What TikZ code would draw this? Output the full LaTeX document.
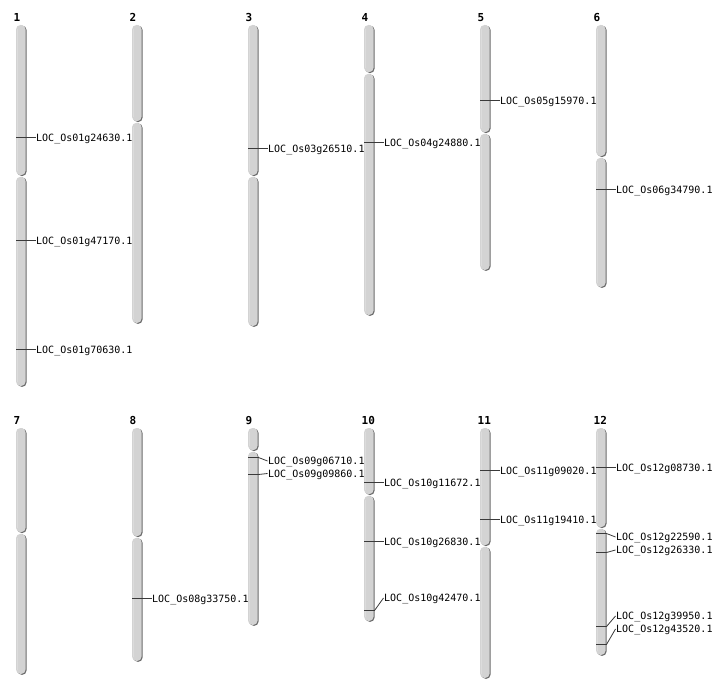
\documentclass[tikz,border=0pt]{standalone}
\usepackage{fontspec}
\newfontfamily\locfont{DejaVu Sans Mono}
\newfontfamily\numfont{DejaVu Sans Mono}
\definecolor{chrbody}{HTML}{D3D3D3}
\definecolor{chrhi}{HTML}{DCDCDC}
\definecolor{chrshade}{HTML}{6A6A6A}
\definecolor{mkcol}{HTML}{3A3A3A}
\tikzset{
  loclab/.style={font=\locfont\fontsize{10}{10}\selectfont, anchor=west, inner sep=0pt, text height=7.3pt, text depth=2pt},
  chrnum/.style={font=\numfont\bfseries\fontsize{11}{11}\selectfont, anchor=west, inner sep=0pt},
  mk/.style={draw=mkcol, line width=1.2pt},
  lead/.style={draw=mkcol, line width=0.8pt},
}
% arm: x, y1, y2
\newcommand\chrarm[3]{%
  \fill[chrshade, rounded corners=4.5pt] ({#1+1.4},{#2+0.6}) rectangle ({#1+10.6},{#3+0.9});
  \fill[chrbody, rounded corners=4.5pt] ({#1},{#2}) rectangle ({#1+9.6},{#3});
  \fill[chrhi] ({#1+0.5},{#2+4}) rectangle ({#1+1.5},{#3-4});
}
% chromosome: name, x, top, centromere, bottom, number
\newcommand\chromosome[6]{%
  \chrarm{#2}{#3}{#4-0.8}
  \chrarm{#2}{#4+0.8}{#5}
  \node[chrnum] (#1) at ({#2-2.5},{#3-7.5}) {#6};
  \coordinate (#1L) at ({#2},{#3});
}
% straight marker: name, x, y, label
\newcommand\mkstraight[4]{%
  \coordinate (#1s) at ({#2},{#3});
  \node[loclab] (#1) at ({#2+20},{#3+1.8}) {#4};
  \draw[mk] (#1s) -- (#1.west |- #1s);
}
% angled marker: name, x, marker y, label y, label
\newcommand\mkangled[5]{%
  \coordinate (#1s) at ({#2},{#3});
  \coordinate (#1e) at ({#2+10.5},{#3});
  \node[loclab] (#1) at ({#2+20},{#4+0.8}) {#5};
  \draw[mk] (#1s) -- (#1e);
  \draw[lead] (#1e) -- ({#2+19.5},{#4-0.5});
}
\begin{document}
\begin{tikzpicture}[x=1pt,y=-1pt]
\useasboundingbox[fill=white] (0,0) rectangle (712,700);
% row 1
\chromosome{c1}{16}{25}{176}{386}{1}
\chromosome{c2}{132}{25}{122}{323}{2}
\chromosome{c3}{248}{25}{176}{326}{3}
\chromosome{c4}{364}{25}{73}{315}{4}
\chromosome{c5}{480}{25}{133}{270}{5}
\chromosome{c6}{596}{25}{157}{287}{6}
% row 2
\chromosome{c7}{16}{428}{533}{674}{7}
\chromosome{c8}{132}{428}{537}{661}{8}
\chromosome{c9}{248}{428}{451}{625}{9}
\chromosome{c10}{364}{428}{495}{621}{10}
\chromosome{c11}{480}{428}{546}{678}{11}
\chromosome{c12}{596}{428}{528}{655}{12}
% markers row 1
\mkstraight{m1a}{16}{137.5}{LOC\_Os01g24630.1}
\mkstraight{m1b}{16}{240.5}{LOC\_Os01g47170.1}
\mkstraight{m1c}{16}{349.5}{LOC\_Os01g70630.1}
\mkstraight{m3a}{248}{148.5}{LOC\_Os03g26510.1}
\mkstraight{m4a}{364}{142.5}{LOC\_Os04g24880.1}
\mkstraight{m5a}{480}{100.5}{LOC\_Os05g15970.1}
\mkstraight{m6a}{596}{189.5}{LOC\_Os06g34790.1}
% markers row 2
\mkstraight{m8a}{132}{598.5}{LOC\_Os08g33750.1}
\mkangled{m9a}{248}{457.5}{461.5}{LOC\_Os09g06710.1}
\mkangled{m9b}{248}{474.5}{474}{LOC\_Os09g09860.1}
\mkstraight{m10a}{364}{482.5}{LOC\_Os10g11672.1}
\mkstraight{m10b}{364}{541.5}{LOC\_Os10g26830.1}
\mkangled{m10c}{364}{610.5}{598.5}{LOC\_Os10g42470.1}
\mkstraight{m11a}{480}{470.5}{LOC\_Os11g09020.1}
\mkstraight{m11b}{480}{519.5}{LOC\_Os11g19410.1}
\mkstraight{m12a}{596}{467.5}{LOC\_Os12g08730.1}
\mkangled{m12b}{596}{533.5}{537.5}{LOC\_Os12g22590.1}
\mkangled{m12c}{596}{552.5}{550.5}{LOC\_Os12g26330.1}
\mkangled{m12d}{596}{626.5}{616.5}{LOC\_Os12g39950.1}
\mkangled{m12e}{596}{644.5}{629.5}{LOC\_Os12g43520.1}
\end{tikzpicture}
\end{document}
